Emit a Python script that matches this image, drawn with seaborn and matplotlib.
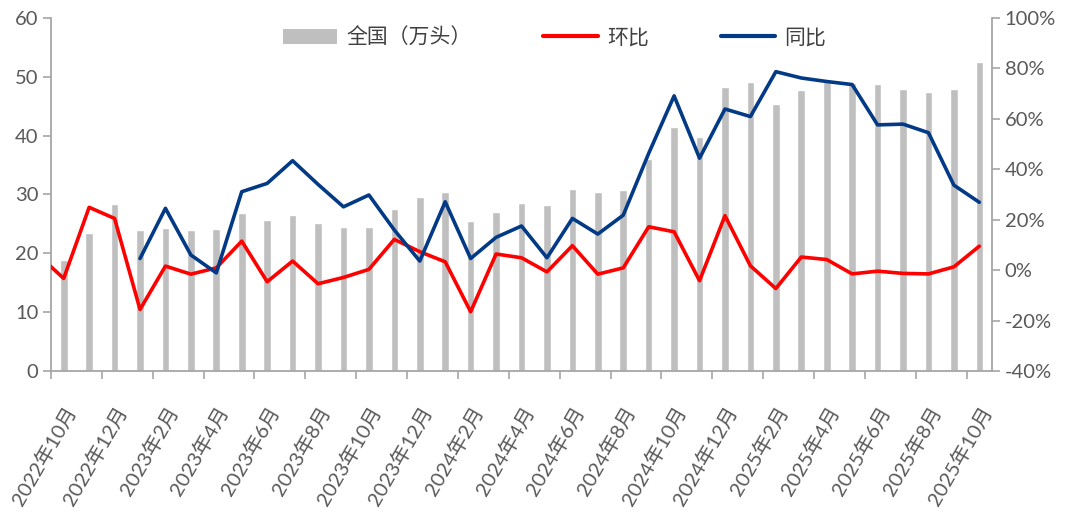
import numpy as np
import pandas as pd
import matplotlib
matplotlib.use("Agg")
import matplotlib.pyplot as plt
import seaborn as sns
from matplotlib.patches import Patch
from matplotlib.lines import Line2D
from matplotlib.ticker import FuncFormatter, FixedLocator
from matplotlib.transforms import ScaledTranslation

# ---------------- data ----------------
months = []
y, m = 2022, 10
for _ in range(37):
    months.append(f"{y}年{m}月")
    m += 1
    if m > 12:
        y, m = y + 1, 1

# 全国（万头）
volume = [18.9, 23.5, 28.4, 24.0, 24.3, 23.9, 24.2, 26.9, 25.7, 26.5,
          25.2, 24.5, 24.5, 27.5, 29.6, 30.5, 25.5, 27.1, 28.5, 28.2,
          31.0, 30.5, 30.7, 36.0, 41.4, 39.7, 48.2, 49.1, 45.4, 47.8,
          49.2, 48.9, 48.7, 48.0, 47.5, 48.0, 52.6]

# 环比 (%), first value belongs to 2022年9月 (outside the visible range)
mom_months_offset = -1
mom = [6.0, -3.3, 24.9, 20.5, -15.6, 1.6, -1.6, 0.9, 11.5, -4.6, 3.6,
       -5.4, -2.9, 0.3, 12.2, 7.3, 3.3, -16.5, 6.4, 4.9, -0.7,
       9.7, -1.6, 0.9, 17.2, 15.2, -4.2, 21.6, 1.7, -7.3, 5.2,
       4.2, -1.5, -0.4, -1.3, -1.5, 1.3, 9.5]

# 同比 (%)
yoy = [np.nan, np.nan, np.nan, 4.6, 24.5, 6.0, -1.1, 31.1, 34.4, 43.4,
       34.0, 25.1, 29.8, 15.9, 3.6, 27.1, 4.6, 13.0, 17.5, 4.9,
       20.5, 14.3, 21.8, 46.3, 69.1, 44.4, 63.9, 60.9, 78.7, 76.2,
       74.8, 73.6, 57.6, 57.9, 54.5, 33.7, 26.9]

left_ticks = [0, 10, 20, 30, 40, 50, 60]
right_ticks = [-40, -20, 0, 20, 40, 60, 80, 100]

# ---------------- style ----------------
sns.set_theme(style="white")
plt.rcParams["font.family"] = ["Lato", "Noto Sans CJK SC", "DejaVu Sans"]

GRAY_TXT = "#595959"
AXIS_C = "#A6A6A6"
BAR_C = "#BFBFBF"
RED = "#FF0000"
BLUE = "#023A86"

fig = plt.figure(figsize=(10.69, 5.12), dpi=100)
ax = fig.add_axes([0.0477, 0.2754, 0.8803, 0.6895])

n = len(months)
df = pd.DataFrame({"month": months, "volume": volume})
sns.barplot(data=df, x="month", y="volume", color=BAR_C, saturation=1,
            width=0.3, ax=ax)
ax.set_ylim(0, 60)
ax.set_xlabel("")
ax.set_ylabel("")

ax2 = ax.twinx()
x_mom = np.arange(len(mom)) + mom_months_offset
x_yoy = np.arange(n)
sns.lineplot(x=x_mom, y=mom, color=RED, linewidth=2.6, ax=ax2, legend=False)
mask = ~np.isnan(np.array(yoy, dtype=float))
sns.lineplot(x=x_yoy[mask], y=np.array(yoy)[mask], color=BLUE, linewidth=2.6,
             ax=ax2, legend=False)
ax2.set_ylim(-40, 100)
ax2.set_ylabel("")
ax.set_xlim(-0.5, n - 0.5)
ax2.set_xlim(-0.5, n - 0.5)

# x ticks
label_pos = list(range(0, n, 2))
ax.xaxis.set_major_locator(FixedLocator(label_pos))
ax.set_xticklabels([months[i] for i in label_pos], rotation=60, ha="right",
                   va="top", rotation_mode="anchor", fontsize=14.5, color=GRAY_TXT)
shift = ScaledTranslation(8 / 72, 0, fig.dpi_scale_trans)
for lbl in ax.get_xticklabels():
    lbl.set_transform(lbl.get_transform() + shift)
ax.xaxis.set_minor_locator(FixedLocator(np.arange(-0.5, n, 2)))
ax.tick_params(axis="x", which="major", length=0, pad=23.5)
ax.tick_params(axis="x", which="minor", length=6, width=1.2, color=AXIS_C,
               direction="out", bottom=True)

# y ticks
ax.set_yticks(left_ticks)
ax.tick_params(axis="y", which="major", length=6, width=1.2, color=AXIS_C,
               direction="out", left=True, labelsize=14.5, labelcolor=GRAY_TXT, pad=3)
ax2.set_yticks(right_ticks)
ax2.yaxis.set_major_formatter(FuncFormatter(lambda v, p: f"{v:.0f}%"))
ax2.tick_params(axis="y", which="major", length=6, width=1.2, color=AXIS_C,
                direction="out", right=True, labelsize=14.5, labelcolor=GRAY_TXT, pad=3)

for a in (ax, ax2):
    a.grid(False)
    a.spines["top"].set_visible(False)
    for s in ("left", "right", "bottom"):
        a.spines[s].set_color(AXIS_C)
        a.spines[s].set_linewidth(1.3)
ax2.spines["left"].set_visible(False)
ax2.spines["bottom"].set_visible(False)
ax.spines["right"].set_visible(False)

# legend
handles = [Patch(facecolor=BAR_C, edgecolor="none"),
           Line2D([], [], color=RED, linewidth=3),
           Line2D([], [], color=BLUE, linewidth=3)]
labels = ["全国（万头）", "环比", "同比"]
fig.legend(handles, labels, loc="center", bbox_to_anchor=(0.5185, 0.926),
           ncol=3, frameon=False, handlelength=2.6,
           handleheight=0.75, handletextpad=0.45, columnspacing=3.45,
           labelcolor="#404040",
           prop={"family": ["Noto Sans CJK SC"], "size": 15})

fig.savefig("out.png", dpi=100)
